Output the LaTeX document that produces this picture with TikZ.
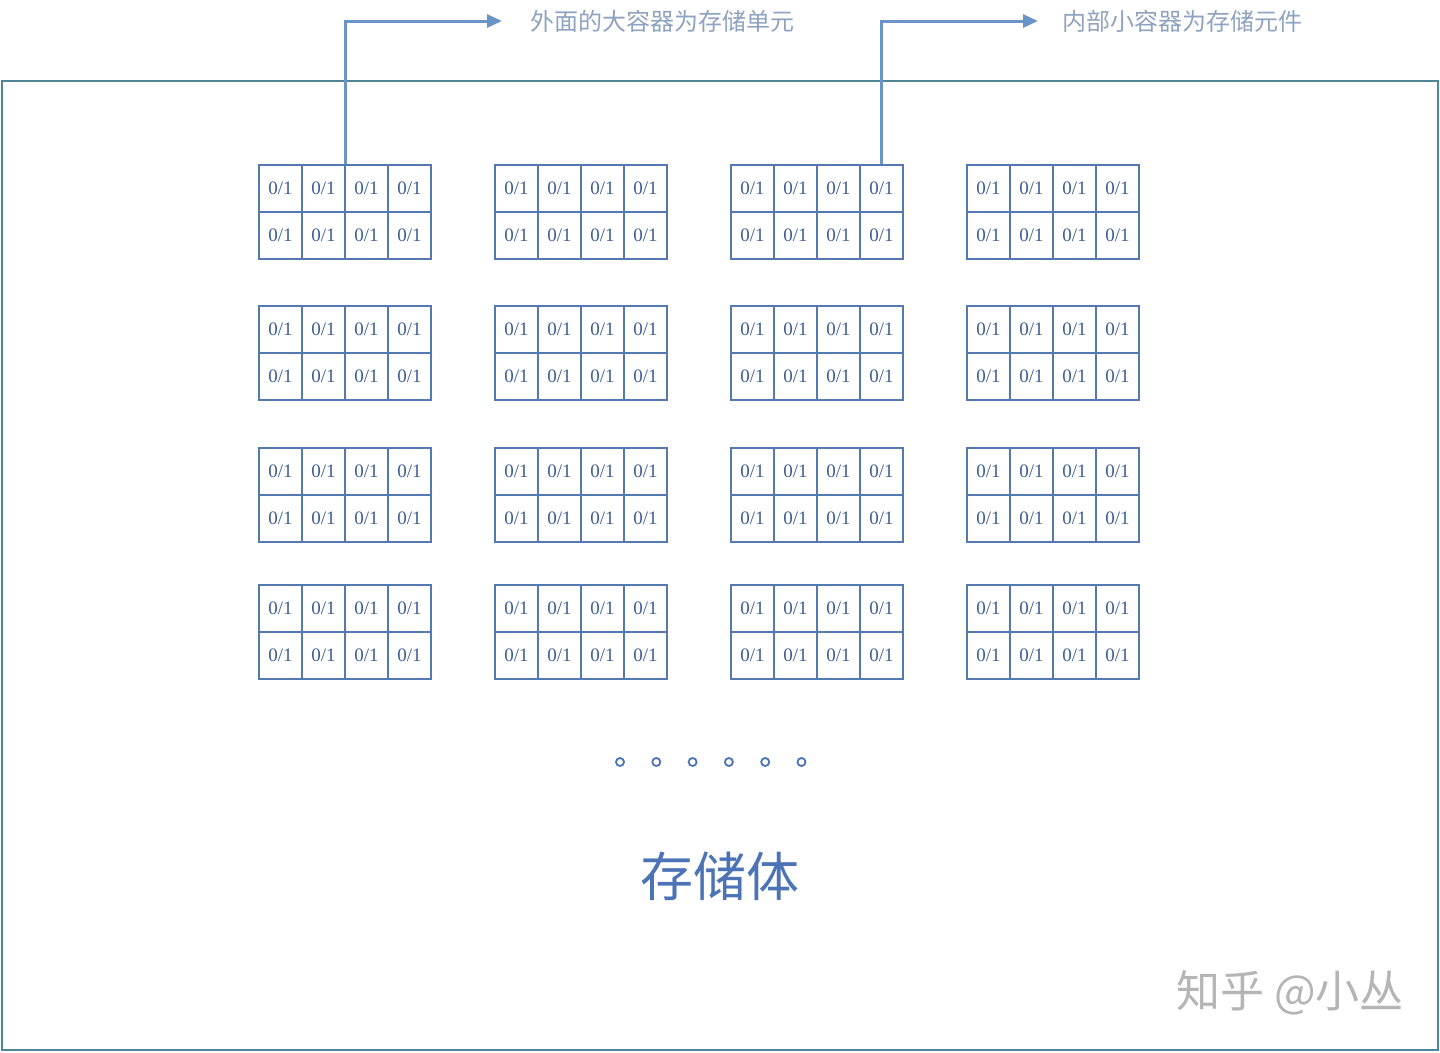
\documentclass[tikz,border=0pt]{standalone}
\usepackage{fontspec}
\setmainfont{Liberation Serif}
\newfontfamily\cjk{Noto Sans CJK SC}
\usetikzlibrary{arrows.meta}
\definecolor{cellc}{HTML}{5479B0}
\definecolor{celltxt}{HTML}{3D5F94}
\definecolor{framec}{HTML}{4F8595}
\definecolor{arrowc}{HTML}{6A95C6}
\definecolor{labc}{HTML}{8EA3BF}
\definecolor{titlec}{HTML}{4B73B5}
\definecolor{wmc}{HTML}{B5B5B5}
\tikzset{
  cell/.style={draw=cellc, line width=1.3pt, minimum width=43pt, minimum height=47pt,
    inner sep=0pt, text=celltxt, font=\fontsize{19}{19}\selectfont},
  pointer/.style={draw=arrowc, line width=3pt, -{Triangle[length=15pt,width=13pt]}},
  toplabel/.style={anchor=west, inner sep=0pt, text=labc, font=\cjk\fontsize{24}{24}\selectfont},
  dotc/.style={draw=titlec, line width=1.8pt},
}
\begin{document}
\begin{tikzpicture}[x=1pt,y=-1pt]
\useasboundingbox (0,0) rectangle (1440,1052);
\fill[white] (0,0) rectangle (1440,1052);
% outer frame
\draw[framec, line width=1.3pt] (2,81) rectangle (1438,1050);
% grid of storage units
\foreach \r/\y in {0/165,1/306,2/448,3/585}{
  \foreach \c in {0,1,2,3}{
    \foreach \i in {0,1}{
      \foreach \j in {0,1,2,3}{
        \node[cell] (b\r\c-\i\j) at ({259+236*\c+43*\j+21.5},{\y+47*\i+23.5}) {0/1};
      }
    }
  }
}
% labels
\node[toplabel] (lab1) at (530,21) {外面的大容器为存储单元};
\node[toplabel] (lab2) at (1062,21) {内部小容器为存储元件};
% pointers
\draw[pointer, shorten >=28pt] (b00-01.north east) |- (lab1.west);
\draw[pointer, shorten >=24pt] (b02-03.north) |- (lab2.west);
% ellipsis dots
\foreach \k in {0,...,5}{
  \node[circle, dotc, minimum size=8pt, inner sep=0pt] (d\k) at ({620+36.3*\k},762) {};
}
% title
\node[text=titlec, font=\cjk\fontsize{53}{53}\selectfont] (title) at (720,876) {存储体};
% watermark
\node[text=wmc, font=\cjk\fontsize{44}{44}\selectfont] (wm) at (1290,993) {知乎 @小丛};
\end{tikzpicture}
\end{document}
